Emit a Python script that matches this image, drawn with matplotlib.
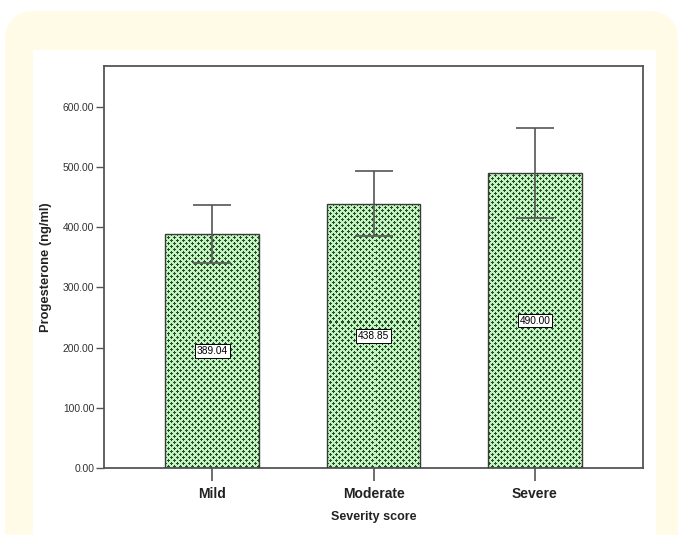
import numpy as np
import matplotlib
matplotlib.use("Agg")
import matplotlib.pyplot as plt
from matplotlib.patches import FancyBboxPatch, Rectangle

# data
categories = ["Mild", "Moderate", "Severe"]
means = [389.04, 438.85, 490.00]
errors = [48, 54, 75]
y_ticks = [0, 100, 200, 300, 400, 500, 600]

plt.rcParams["font.family"] = ["Liberation Sans", "DejaVu Sans"]

W, H = 679, 535
fig = plt.figure(figsize=(W / 100, H / 100), dpi=100)
fig.patch.set_facecolor("white")

# yellow rounded frame and white panel behind the plot
fig.patches.append(FancyBboxPatch((5 / W, -0.1), (678 - 5) / W, (H - 11) / H + 0.1,
                                  boxstyle="round,pad=0,rounding_size=0.045",
                                  transform=fig.transFigure, fc="#fffbe7", ec="none",
                                  mutation_aspect=W / H, zorder=-3))
fig.patches.append(Rectangle((33 / W, -0.1), (656 - 33) / W, (H - 50) / H + 0.1,
                             transform=fig.transFigure, fc="white", ec="none", zorder=-2))

ax_l, ax_r, ax_t, ax_b = 104, 643, 66, 468
ax = fig.add_axes([ax_l / W, (H - ax_b) / H, (ax_r - ax_l) / W, (ax_b - ax_t) / H])
ax.set_facecolor("white")

x = np.arange(len(categories))
xlim = (-0.67, 2.67)
ylim = (0, 668)
ax.set_xlim(*xlim)
ax.set_ylim(*ylim)

bars = ax.bar(x, means, width=0.58, color="none", edgecolor="#3a3a3a",
              linewidth=1.0, zorder=3)

# cross pattern tile for bar fill
pw, ph = ax_r - ax_l, ax_b - ax_t
light = np.array([0.76, 0.96, 0.76])
dark = np.array([0.16, 0.30, 0.16])
pattern = np.tile(light, (ph, pw, 1))
yy, xx = np.mgrid[0:ph, 0:pw]
for cx, cy in [(1, 1), (4, 4)]:
    dx = (xx - cx) % 6
    dy = (yy - cy) % 6
    mask = ((dx == 0) & ((dy <= 1) | (dy == 5))) | ((dy == 0) & ((dx <= 1) | (dx == 5)))
    pattern[mask] = dark

for b in bars:
    im = ax.imshow(pattern, extent=(xlim[0], xlim[1], ylim[0], ylim[1]),
                   aspect="auto", interpolation="nearest", zorder=2, origin="upper")
    im.set_clip_path(b)

ax.errorbar(x, means, yerr=errors, fmt="none", ecolor="#555555",
            elinewidth=1.2, capsize=13.5, capthick=1.2, zorder=4)

for xi, m in zip(x, means):
    ax.text(xi, m / 2, f"{m:.2f}", ha="center", va="center", fontsize=7.3,
            zorder=5, bbox=dict(boxstyle="square,pad=0.18", fc="white",
                                ec="black", lw=0.7))

ax.set_yticks(y_ticks)
ax.set_yticklabels([f"{v:.2f}" for v in y_ticks], fontsize=7.4, color="#333333")
ax.set_xticks(x)
ax.set_xticklabels(categories, fontsize=10, fontweight="bold", color="#222222")
ax.tick_params(axis="y", length=6, width=1, color="#555555", pad=1)
ax.tick_params(axis="x", length=9, width=1.2, color="#555555", pad=5)

for s in ax.spines.values():
    s.set_color("#555555")
    s.set_linewidth(1.3)

ax.set_xlabel("Severity score", fontsize=9, fontweight="bold", color="#222222",
              labelpad=7)
ax.set_ylabel("Progesterone (ng/ml)", fontsize=9.3, fontweight="bold",
              color="#222222", labelpad=8)

fig.savefig("out.png", dpi=100)
